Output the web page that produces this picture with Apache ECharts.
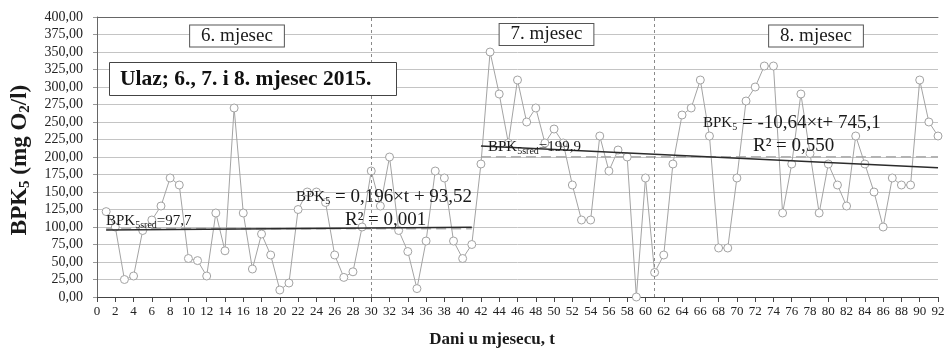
<!DOCTYPE html>
<html>
<head>
<meta charset="utf-8">
<script src="https://cdn.jsdelivr.net/npm/echarts@6/dist/echarts.min.js"></script>
<style>
html,body{margin:0;padding:0;background:#fff;}
#chart{width:948px;height:362px;}
</style>
</head>
<body>
<div id="chart"></div>
<script>
// ---- data ----
const days = [1,2,3,4,5,6,7,8,9,10,11,12,13,14,15,16,17,18,19,20,21,22,23,24,25,26,27,28,29,30,
  31,32,33,34,35,36,37,38,39,40,41,42,43,44,45,46,47,48,49,50,51,52,53,54,55,56,57,58,59,60,61,
  62,63,64,65,66,67,68,69,70,71,72,73,74,75,76,77,78,79,80,81,82,83,84,85,86,87,88,89,90,91,92];
const bpk = [122,100,25,30,95,110,130,170,160,55,52,30,120,66,270,120,40,90,60,10,
  20,125,150,150,135,60,28,36,100,180,
  130,200,95,65,12,80,180,170,80,55,75,190,350,290,220,310,250,270,220,240,
  220,160,110,110,230,180,210,200,0,170,35,
  60,190,260,270,310,230,70,70,170,280,300,330,330,120,190,290,205,120,190,
  160,130,230,190,150,100,170,160,160,310,250,230];
const trendJuneX = [1, 41];
const trendJuneY = [95.7, 99.5];
const meanJuneX = [1, 41];
const meanJuneY = [97.7, 97.7];
const trendJulAugX = [42, 92];
const trendJulAugY = [215.7, 184.5];
const meanJulX = [42, 92];
const meanJulY = [199.9, 199.9];
const monthBreaks = [30, 61];
const monthLabels = ['6. mjesec', '7. mjesec', '8. mjesec'];
const titleText = 'Ulaz; 6., 7. i 8. mjesec 2015.';

const SERIF = '"Liberation Serif", "Times New Roman", serif';
const pairs = (xs, ys) => xs.map((x, i) => [x, ys[i]]);

const chart = echarts.init(document.getElementById('chart'), null, {renderer: 'canvas'});

function sub(fs, pad) { return {fontSize: fs, fontFamily: SERIF, fill: '#1a1a1a', padding: [pad,0,0,0]}; }
function main(fs, bold) { return {fontSize: fs, fontFamily: SERIF, fill: '#1a1a1a', fontWeight: bold ? 'bold' : 'normal'}; }

function boxLabel(text, cx, cy) {
  return {
    type: 'text', x: cx, y: cy, z: 100,
    style: {
      text: text, fontSize: 19, fontFamily: SERIF, fill: '#1a1a1a',
      align: 'center', verticalAlign: 'middle',
      backgroundColor: '#fff', borderColor: '#555', borderWidth: 1,
      padding: [1, 11, 1, 11]
    }
  };
}

const option = {
  animation: false,
  backgroundColor: '#fff',
  grid: {left: 97, right: 10, top: 17, bottom: 65, containLabel: false},
  xAxis: [{
    type: 'value', min: 0, max: 92, interval: 2, position: 'bottom',
    axisLine: {show: true, onZero: false, lineStyle: {color: '#444', width: 1}},
    axisTick: {show: true, length: 5, lineStyle: {color: '#444'}},
    axisLabel: {fontFamily: SERIF, fontSize: 13, color: '#222', margin: 8},
    splitLine: {show: false}
  }, {
    type: 'value', min: 0, max: 92, interval: 2, position: 'top',
    axisLine: {show: true, onZero: false, lineStyle: {color: '#666', width: 1}},
    axisTick: {show: false}, axisLabel: {show: false}, splitLine: {show: false}
  }],
  yAxis: [{
    type: 'value', min: 0, max: 400, interval: 25,
    axisLine: {show: false},
    axisTick: {show: true, length: 4, lineStyle: {color: '#999'}},
    axisLabel: {fontFamily: SERIF, fontSize: 14, color: '#222', margin: 14,
      formatter: v => v.toFixed(2).replace('.', ',')},
    splitLine: {show: true, lineStyle: {color: '#c4c4c4', width: 1}}
  }, {
    type: 'value', min: 0, max: 400, interval: 25, position: 'right',
    axisLine: {show: true, lineStyle: {color: '#666', width: 1}},
    axisTick: {show: false}, axisLabel: {show: false}, splitLine: {show: false}
  }],
  series: [
    {
      type: 'line', name: 'meanJune', data: pairs(meanJuneX, meanJuneY),
      symbol: 'none', z: 2,
      lineStyle: {color: '#b3b3b3', width: 2, type: [10, 5]}
    },
    {
      type: 'line', name: 'meanJul', data: pairs(meanJulX, meanJulY),
      symbol: 'none', z: 2,
      lineStyle: {color: '#b3b3b3', width: 2, type: [10, 5]}
    },
    {
      type: 'line', name: 'BPK5', data: pairs(days, bpk),
      symbol: 'circle', symbolSize: 8, z: 3,
      lineStyle: {color: '#a3a3a3', width: 1},
      itemStyle: {color: '#fff', borderColor: '#a3a3a3', borderWidth: 1},
      markLine: {
        silent: true, symbol: 'none', label: {show: false},
        lineStyle: {color: '#8a8a8a', width: 1, type: [3, 3]},
        data: monthBreaks.map(v => ({xAxis: v}))
      }
    },
    {
      type: 'line', name: 'trendJune', data: pairs(trendJuneX, trendJuneY),
      symbol: 'none', z: 4,
      lineStyle: {color: '#2b2b2b', width: 1.5}
    },
    {
      type: 'line', name: 'trendJulAug', data: pairs(trendJulAugX, trendJulAugY),
      symbol: 'none', z: 4,
      lineStyle: {color: '#2b2b2b', width: 1.5}
    }
  ],
  graphic: [
    boxLabel(monthLabels[0], 237, 36),
    boxLabel(monthLabels[1], 546.5, 34.5),
    boxLabel(monthLabels[2], 816, 36),
    {type: 'rect', z: 100, shape: {x: 109.5, y: 62.5, width: 287, height: 33},
      style: {fill: '#fff', stroke: '#444', lineWidth: 1}},
    {type: 'text', z: 101, x: 120, y: 79,
      style: {text: titleText, fontSize: 21.5, fontWeight: 'bold', fontFamily: SERIF,
        fill: '#111', align: 'left', verticalAlign: 'middle'}},
    // June mean label
    {type: 'text', z: 90, x: 106, y: 221,
      style: {text: '{a|BPK}{s|5sred}{a|=97,7}', align: 'left', verticalAlign: 'middle',
        rich: {a: main(15), s: sub(10, 8)}}},
    // June regression
    {type: 'text', z: 90, x: 296, y: 197,
      style: {text: '{b|BPK}{s|5}{a| = 0,196×t + 93,52}', align: 'left', verticalAlign: 'middle',
        rich: {a: main(19), b: main(15), s: sub(10, 9)}}},
    {type: 'text', z: 90, x: 345, y: 220,
      style: {text: 'R² = 0,001', fontSize: 19, fontFamily: SERIF, fill: '#1a1a1a',
        align: 'left', verticalAlign: 'middle'}},
    // July mean label
    {type: 'text', z: 90, x: 488, y: 147,
      style: {text: '{a|BPK}{s|5sred}{a|=199,9}', align: 'left', verticalAlign: 'middle',
        rich: {a: main(15), s: sub(10, 8)}}},
    // Jul-Aug regression
    {type: 'text', z: 90, x: 703, y: 123,
      style: {text: '{b|BPK}{s|5}{a| = -10,64×t+ 745,1}', align: 'left', verticalAlign: 'middle',
        rich: {a: main(19), b: main(15), s: sub(10, 9)}}},
    {type: 'text', z: 90, x: 753, y: 146,
      style: {text: 'R² = 0,550', fontSize: 19, fontFamily: SERIF, fill: '#1a1a1a',
        align: 'left', verticalAlign: 'middle'}},
    // axis titles
    {type: 'text', z: 90, x: 20, y: 160, rotation: Math.PI / 2,
      style: {text: '{a|BPK}{s|5}{a| (mg O}{s|2}{a|/l)}', align: 'center', verticalAlign: 'middle',
        rich: {a: main(23, true), s: {fontSize: 15, fontFamily: SERIF, fontWeight: 'bold', fill: '#1a1a1a', padding: [10,0,0,0]}}}},
    {type: 'text', z: 90, x: 492, y: 340,
      style: {text: 'Dani u mjesecu, t', fontSize: 17, fontWeight: 'bold', fontFamily: SERIF,
        fill: '#1a1a1a', align: 'center', verticalAlign: 'middle'}}
  ]
};
chart.setOption(option);
</script>
</body>
</html>
